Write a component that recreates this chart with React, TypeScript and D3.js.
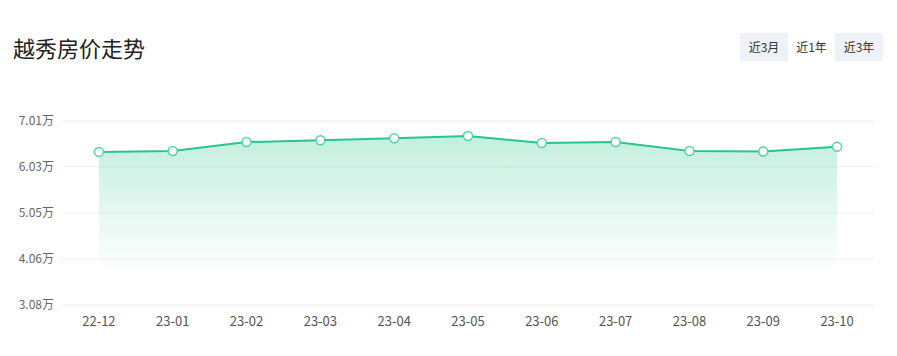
import React from "react";
import * as d3 from "d3";

const categories = ["22-12", "23-01", "23-02", "23-03", "23-04", "23-05", "23-06", "23-07", "23-08", "23-09", "23-10"];
const prices = [6.35, 6.37, 6.56, 6.6, 6.64, 6.69, 6.54, 6.56, 6.37, 6.36, 6.46];
const yTicks = [3.08, 4.06, 5.05, 6.03, 7.01];
const buttons = ["近3月", "近1年", "近3年"];

const W = 897;
const H = 356;
const FONT = "'Noto Sans CJK SC', 'Noto Sans', sans-serif";

export default function App() {
  const x = d3.scaleBand<string>().domain(categories).range([62, 874]);
  const y = d3.scaleLinear().domain([3.08, 7.01]).range([305, 121]);
  const cx = (c: string) => (x(c) as number) + x.bandwidth() / 2;
  const line = d3.line<number>().x((_, i) => cx(categories[i])).y((d) => y(d));
  const area = d3
    .area<number>()
    .x((_, i) => cx(categories[i]))
    .y0(y(3.08))
    .y1((d) => y(d));
  const green = "#27c68c";
  const btnX = [740, 788, 835];
  const btnW = [48, 47, 48];
  return (
    <svg width={W} height={H} style={{ display: "block", position: "absolute", left: 0, top: 0 }} fontFamily={FONT}>
      <defs>
        <linearGradient id="fillGrad" x1="0" y1={y(6.69)} x2="0" y2={y(3.08)} gradientUnits="userSpaceOnUse">
          <stop offset="0" stopColor={green} stopOpacity={0.28} />
          <stop offset="0.8" stopColor={green} stopOpacity={0} />
        </linearGradient>
      </defs>
      <rect width={W} height={H} fill="#fff" />
      <text x={13} y={57} fontSize={22} fill="#222">越秀房价走势</text>
      <rect x={740} y={33} width={143} height={28} fill="#eef1f5" rx={2} />
      <rect x={788} y={33} width={47} height={28} fill="#fff" />
      {buttons.map((b, i) => (
        <text key={b} x={btnX[i] + btnW[i] / 2} y={51.5} fontSize={12} fill="#333" textAnchor="middle">
          {b}
        </text>
      ))}
      {yTicks.map((t) => (
        <g key={t}>
          <line x1={62} x2={874} y1={y(t)} y2={y(t)} stroke="#eeeeee" strokeWidth={1} />
          <text x={54} y={y(t) + 4} fontSize={12} fill="#666" textAnchor="end">
            {t.toFixed(2)}万
          </text>
        </g>
      ))}
      {categories.map((c) => (
        <text key={c} x={cx(c)} y={326} fontSize={13} fill="#555" textAnchor="middle">
          {c}
        </text>
      ))}
      <path d={area(prices) || ""} fill="url(#fillGrad)" />
      <path d={line(prices) || ""} fill="none" stroke={green} strokeWidth={2} />
      {prices.map((p, i) => (
        <circle key={i} cx={cx(categories[i])} cy={y(p)} r={4.5} fill="#fff" stroke="#4fd3a2" strokeWidth={1.5} />
      ))}
    </svg>
  );
}
